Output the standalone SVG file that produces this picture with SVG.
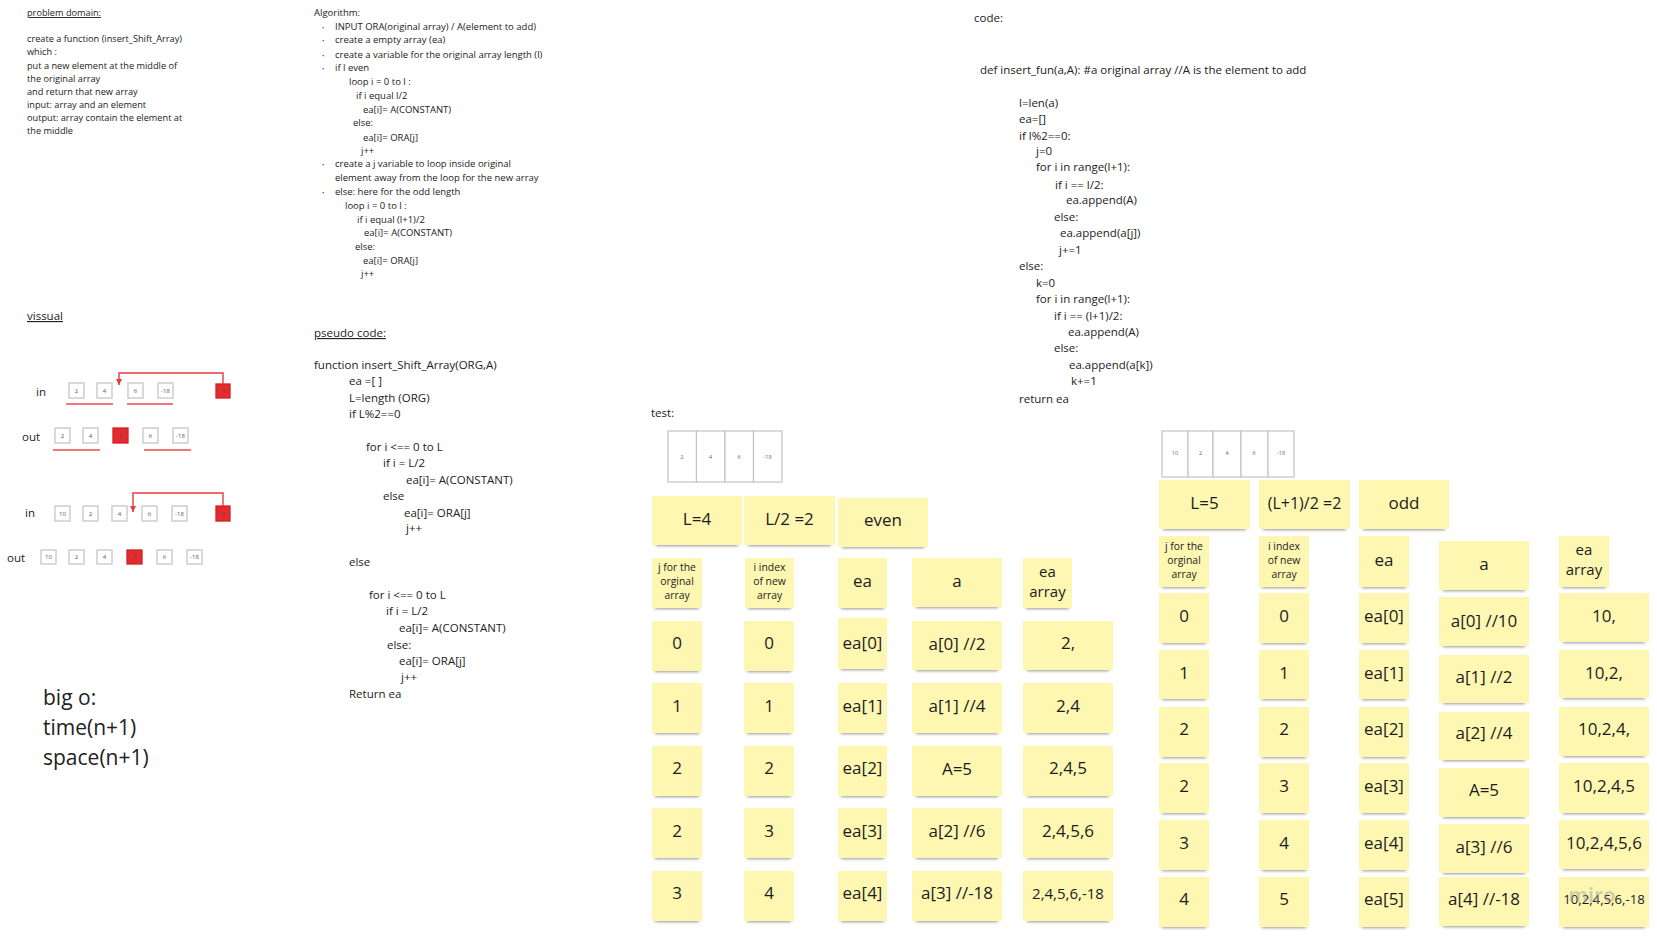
<svg xmlns="http://www.w3.org/2000/svg" width="1657" height="942" viewBox="0 0 1657 942">
<style>
text{font-family:"Open Sans","Liberation Sans",sans-serif;fill:#222}
.pd{font-size:9.2px}
.al{font-size:9.5px}
.cd{font-size:11.5px}
.u{text-decoration:underline}
.bul{font-size:6px;fill:#444}
.vl{font-size:11.5px}
.bo{font-size:21px}
.vb rect{fill:#fff;stroke:#c6c6c6;stroke-width:1.3}
.vb rect.r{fill:#e52a2d;stroke:#cf2326}
.vb text{font-size:6px;fill:#555;text-anchor:middle}
.ta rect{fill:#fff;stroke:#c4c4c4;stroke-width:1.2}
.ta text{font-size:5.5px;fill:#666;text-anchor:middle}
.s .sh{fill:#444;opacity:.55;filter:url(#blur)}
.s .n{fill:#fef7b2}
.s text{font-size:17px;text-anchor:middle;fill:#1c1c1c}
.s text.sm{font-size:10.4px}
.s text.md{font-size:15px}
.red{stroke:#e8393b;stroke-width:1.4;fill:none}
.ul{stroke:#ee4a4c;stroke-width:1.6}
</style>
<defs>
<filter id="blur" x="-20%" y="-100%" width="140%" height="300%"><feGaussianBlur stdDeviation="1.8"/></filter>
<marker id="ah" markerWidth="8" markerHeight="8" refX="6" refY="4" orient="auto" markerUnits="userSpaceOnUse"><path d="M0,1 L6,4 L0,7 z" fill="#e8393b"/></marker>
</defs>
<rect width="1657" height="942" fill="#fff"/>

<g id="problem-domain">
<text class="pd u" x="27" y="16">problem domain:</text>
<text class="pd" x="27" y="42">create a function (insert_Shift_Array)</text>
<text class="pd" x="27" y="55">which :</text>
<text class="pd" x="27" y="68.5">put a new element at the middle of</text>
<text class="pd" x="27" y="81.5">the original array</text>
<text class="pd" x="27" y="94.5">and return that new array</text>
<text class="pd" x="27" y="107.5">input: array and an element</text>
<text class="pd" x="27" y="121">output: array contain the element at</text>
<text class="pd" x="27" y="134">the middle</text>
</g>

<g id="algorithm">
<text class="al" x="314" y="16">Algorithm:</text>
<text class="bul" x="322" y="30">•</text><text class="al" x="335" y="30">INPUT ORA(original array) / A(element to add)</text>
<text class="bul" x="322" y="43">•</text><text class="al" x="335" y="43">create a empty array (ea)</text>
<text class="bul" x="322" y="58">•</text><text class="al" x="335" y="58">create a variable for the original array length (l)</text>
<text class="bul" x="322" y="71">•</text><text class="al" x="335" y="71">if l even</text>
<text class="al" x="349" y="85">loop i = 0 to l  :</text>
<text class="al" x="356" y="99">if  i equal l/2</text>
<text class="al" x="363" y="113">ea[i]=  A(CONSTANT)</text>
<text class="al" x="353" y="126">else:</text>
<text class="al" x="363" y="141">ea[i]=  ORA[j]</text>
<text class="al" x="361" y="154">j++</text>
<text class="bul" x="322" y="167">•</text><text class="al" x="335" y="167">create a j variable to loop inside original</text>
<text class="al" x="335" y="181">element away from the loop for the new array</text>
<text class="bul" x="322" y="195">•</text><text class="al" x="335" y="195">else: here for the odd length</text>
<text class="al" x="345" y="209">loop i = 0 to l :</text>
<text class="al" x="357" y="223">if  i equal (l+1)/2</text>
<text class="al" x="364" y="236">ea[i]=  A(CONSTANT)</text>
<text class="al" x="355" y="250">else:</text>
<text class="al" x="363" y="264">ea[i]=  ORA[j]</text>
<text class="al" x="361" y="277">j++</text>
</g>

<g id="pseudo-code">
<text class="cd u" x="314" y="337">pseudo code:</text>
<text class="cd" x="314" y="369">function insert_Shift_Array(ORG,A)</text>
<text class="cd" x="349" y="385">ea =[ ]</text>
<text class="cd" x="349" y="402">L=length (ORG)</text>
<text class="cd" x="349" y="418">if L%2==0</text>
<text class="cd" x="366" y="451">for i &lt;== 0 to L</text>
<text class="cd" x="383" y="467">if i = L/2</text>
<text class="cd" x="406" y="484">ea[i]= A(CONSTANT)</text>
<text class="cd" x="383" y="500">else</text>
<text class="cd" x="404" y="517">ea[i]=  ORA[j]</text>
<text class="cd" x="406" y="532">j++</text>
<text class="cd" x="349" y="566">else</text>
<text class="cd" x="369" y="599">for i &lt;== 0 to L</text>
<text class="cd" x="386" y="615">if i = L/2</text>
<text class="cd" x="399" y="632">ea[i]= A(CONSTANT)</text>
<text class="cd" x="387" y="649">else:</text>
<text class="cd" x="399" y="664.5">ea[i]=  ORA[j]</text>
<text class="cd" x="401" y="680.5">j++</text>
<text class="cd" x="349" y="698">Return ea</text>
</g>

<g id="code">
<text class="cd" x="974" y="22">code:</text>
<text class="cd" x="980" y="74">def insert_fun(a,A): #a original array //A is the element to add</text>
<text class="cd" x="1019" y="107">l=len(a)</text>
<text class="cd" x="1019" y="123">ea=[]</text>
<text class="cd" x="1019" y="140">if l%2==0:</text>
<text class="cd" x="1036" y="155">j=0</text>
<text class="cd" x="1036" y="171">for i in range(l+1):</text>
<text class="cd" x="1055" y="188.5">if i == l/2:</text>
<text class="cd" x="1066" y="204">ea.append(A)</text>
<text class="cd" x="1054" y="221">else:</text>
<text class="cd" x="1060" y="237">ea.append(a[j])</text>
<text class="cd" x="1059" y="254">j+=1</text>
<text class="cd" x="1019" y="270">else:</text>
<text class="cd" x="1036" y="287">k=0</text>
<text class="cd" x="1036" y="303">for i in range(l+1):</text>
<text class="cd" x="1054" y="320">if i == (l+1)/2:</text>
<text class="cd" x="1068" y="336">ea.append(A)</text>
<text class="cd" x="1054" y="352">else:</text>
<text class="cd" x="1069" y="369">ea.append(a[k])</text>
<text class="cd" x="1071" y="385">k+=1</text>
<text class="cd" x="1019" y="403">return ea</text>
</g>

<g id="big-o">
<text class="bo" x="43" y="705">big o:</text>
<text class="bo" x="43" y="735">time(n+1)</text>
<text class="bo" x="43" y="765">space(n+1)</text>
</g>

<g id="visual">
<text class="vl u" x="27" y="320">vissual</text>
<text class="vl" x="36" y="396">in</text>
<text class="vl" x="22" y="441">out</text>
<text class="vl" x="25" y="517">in</text>
<text class="vl" x="7" y="562">out</text>
</g>

<g id="even-in" class="vb">
<rect x="69" y="383" width="15" height="15"/><text x="76.5" y="392.5">2</text>
<rect x="97" y="383" width="15" height="15"/><text x="104.5" y="392.5">4</text>
<rect x="128" y="383" width="15" height="15"/><text x="135.5" y="392.5">6</text>
<rect x="158" y="383" width="15" height="15"/><text x="165.5" y="392.5">-18</text>
<rect class="r" x="216" y="384" width="14" height="14"/><text x="223" y="393">5</text>
</g>
<g id="even-out" class="vb">
<rect x="55" y="428" width="15" height="15"/><text x="62.5" y="437.5">2</text>
<rect x="83" y="428" width="15" height="15"/><text x="90.5" y="437.5">4</text>
<rect class="r" x="113" y="428" width="15" height="15"/><text x="120.5" y="437.5">5</text>
<rect x="143" y="428" width="15" height="15"/><text x="150.5" y="437.5">6</text>
<rect x="173" y="428" width="15" height="15"/><text x="180.5" y="437.5">-18</text>
</g>
<g id="odd-in" class="vb">
<rect x="55" y="506" width="15" height="15"/><text x="62.5" y="515.5">10</text>
<rect x="83" y="506" width="15" height="15"/><text x="90.5" y="515.5">2</text>
<rect x="112" y="506" width="15" height="15"/><text x="119.5" y="515.5">4</text>
<rect x="142" y="506" width="15" height="15"/><text x="149.5" y="515.5">6</text>
<rect x="172" y="506" width="15" height="15"/><text x="179.5" y="515.5">-18</text>
<rect class="r" x="216" y="506" width="14" height="15"/><text x="223" y="515.5">5</text>
</g>
<g id="odd-out" class="vb">
<rect x="41" y="550" width="15" height="14"/><text x="48.5" y="559">10</text>
<rect x="69" y="550" width="15" height="14"/><text x="76.5" y="559">2</text>
<rect x="97" y="550" width="15" height="14"/><text x="104.5" y="559">4</text>
<rect class="r" x="127" y="550" width="15" height="14"/><text x="134.5" y="559">5</text>
<rect x="157" y="550" width="15" height="14"/><text x="164.5" y="559">6</text>
<rect x="187" y="550" width="15" height="14"/><text x="194.5" y="559">-18</text>
</g>

<g id="connectors">
<path class="red" d="M223 384 V373 H119 V385" marker-end="url(#ah)"/>
<path class="red" d="M223 506 V493 H133 V512" marker-end="url(#ah)"/>
<line class="ul" x1="66" y1="404" x2="113" y2="404"/>
<line class="ul" x1="127" y1="404" x2="173" y2="404"/>
<line class="ul" x1="53" y1="450" x2="100" y2="450"/>
<line class="ul" x1="144" y1="450" x2="191" y2="450"/>
</g>

<text class="cd" x="651" y="417">test:</text>
<g id="test-array-even" class="ta">
<rect x="668" y="431" width="28.5" height="51"/><text x="682" y="459">2</text>
<rect x="696.5" y="431" width="28.5" height="51"/><text x="710.5" y="459">4</text>
<rect x="725" y="431" width="28.5" height="51"/><text x="739" y="459">6</text>
<rect x="753.5" y="431" width="28.5" height="51"/><text x="767.5" y="459">-18</text>
</g>
<g id="test-array-odd" class="ta">
<rect x="1162" y="431" width="26" height="46"/><text x="1175" y="455">10</text>
<rect x="1188" y="431" width="25" height="46"/><text x="1200.5" y="455">2</text>
<rect x="1213" y="431" width="28" height="46"/><text x="1227" y="455">4</text>
<rect x="1241" y="431" width="27" height="46"/><text x="1254" y="455">6</text>
<rect x="1268" y="431" width="26" height="46"/><text x="1281" y="455">-18</text>
</g>

<g id="e-L" class="s"><rect class="sh" x="656" y="539" width="82" height="7"/><rect class="n" x="652" y="496" width="90" height="49"/><text x="697" y="525">L=4</text></g>
<g id="e-half" class="s"><rect class="sh" x="748" y="539" width="83" height="7"/><rect class="n" x="744" y="496" width="91" height="49"/><text x="789.5" y="525">L/2 =2</text></g>
<g id="e-even" class="s"><rect class="sh" x="842" y="541" width="82" height="7"/><rect class="n" x="838" y="498" width="90" height="49"/><text x="883" y="526">even</text></g>
<g id="e-jhead" class="s"><rect class="sh" x="655" y="602" width="44" height="7"/><rect class="n" x="652" y="558" width="50" height="50"/><text class="sm" x="677" y="571">j for the</text><text class="sm" x="677" y="585">orginal</text><text class="sm" x="677" y="599">array</text></g>
<g id="e-ihead" class="s"><rect class="sh" x="748" y="602" width="43" height="7"/><rect class="n" x="745" y="558" width="49" height="50"/><text class="sm" x="769.5" y="571">i index</text><text class="sm" x="769.5" y="585">of new</text><text class="sm" x="769.5" y="599">array</text></g>
<g id="e-eahead" class="s"><rect class="sh" x="841" y="602" width="43" height="7"/><rect class="n" x="838" y="558" width="49" height="50"/><text x="862.5" y="587">ea</text></g>
<g id="e-ahead" class="s"><rect class="sh" x="916" y="601" width="82" height="7"/><rect class="n" x="912" y="558" width="90" height="49"/><text x="957" y="587">a</text></g>
<g id="e-arrhead" class="s"><rect class="sh" x="1026" y="602" width="43" height="7"/><rect class="n" x="1023" y="558" width="49" height="50"/><text class="md" x="1047.5" y="577">ea</text><text class="md" x="1047.5" y="597">array</text></g>

<g id="e-r0" class="s">
<rect class="sh" x="655" y="665" width="44" height="7"/><rect class="n" x="652" y="621" width="50" height="50"/><text x="677" y="649">0</text>
<rect class="sh" x="747" y="665" width="44" height="7"/><rect class="n" x="744" y="621" width="50" height="50"/><text x="769" y="649">0</text>
<rect class="sh" x="841" y="663" width="43" height="7"/><rect class="n" x="838" y="618" width="49" height="51"/><text x="862.5" y="649">ea[0]</text>
<rect class="sh" x="916" y="664" width="82" height="7"/><rect class="n" x="912" y="621" width="90" height="49"/><text x="957" y="650">a[0] //2</text>
<rect class="sh" x="1027" y="664" width="82" height="7"/><rect class="n" x="1023" y="621" width="90" height="49"/><text x="1068" y="649">2,</text>
</g>
<g id="e-r1" class="s">
<rect class="sh" x="655" y="727" width="44" height="7"/><rect class="n" x="652" y="683" width="50" height="50"/><text x="677" y="711.5">1</text>
<rect class="sh" x="747" y="727" width="44" height="7"/><rect class="n" x="744" y="683" width="50" height="50"/><text x="769" y="711.5">1</text>
<rect class="sh" x="841" y="727" width="43" height="7"/><rect class="n" x="838" y="683" width="49" height="50"/><text x="862.5" y="711.5">ea[1]</text>
<rect class="sh" x="916" y="727" width="82" height="7"/><rect class="n" x="912" y="683" width="90" height="50"/><text x="957" y="712">a[1] //4</text>
<rect class="sh" x="1027" y="727" width="82" height="7"/><rect class="n" x="1023" y="683" width="90" height="50"/><text x="1068" y="711.5">2,4</text>
</g>
<g id="e-r2" class="s">
<rect class="sh" x="655" y="790" width="44" height="7"/><rect class="n" x="652" y="746" width="50" height="50"/><text x="677" y="774">2</text>
<rect class="sh" x="747" y="790" width="44" height="7"/><rect class="n" x="744" y="746" width="50" height="50"/><text x="769" y="774">2</text>
<rect class="sh" x="841" y="790" width="43" height="7"/><rect class="n" x="838" y="746" width="49" height="50"/><text x="862.5" y="774">ea[2]</text>
<rect class="sh" x="916" y="790" width="82" height="7"/><rect class="n" x="912" y="746" width="90" height="50"/><text x="957" y="775">A=5</text>
<rect class="sh" x="1027" y="790" width="82" height="7"/><rect class="n" x="1023" y="746" width="90" height="50"/><text x="1068" y="774">2,4,5</text>
</g>
<g id="e-r3" class="s">
<rect class="sh" x="655" y="852" width="44" height="7"/><rect class="n" x="652" y="808" width="50" height="50"/><text x="677" y="836.5">2</text>
<rect class="sh" x="747" y="852" width="44" height="7"/><rect class="n" x="744" y="808" width="50" height="50"/><text x="769" y="836.5">3</text>
<rect class="sh" x="841" y="852" width="43" height="7"/><rect class="n" x="838" y="808" width="49" height="50"/><text x="862.5" y="836.5">ea[3]</text>
<rect class="sh" x="916" y="852" width="82" height="7"/><rect class="n" x="912" y="808" width="90" height="50"/><text x="957" y="837">a[2] //6</text>
<rect class="sh" x="1027" y="852" width="82" height="7"/><rect class="n" x="1023" y="808" width="90" height="50"/><text x="1068" y="836.5">2,4,5,6</text>
</g>
<g id="e-r4" class="s">
<rect class="sh" x="655" y="915" width="44" height="7"/><rect class="n" x="652" y="871" width="50" height="50"/><text x="677" y="899">3</text>
<rect class="sh" x="747" y="915" width="44" height="7"/><rect class="n" x="744" y="871" width="50" height="50"/><text x="769" y="899">4</text>
<rect class="sh" x="841" y="915" width="43" height="7"/><rect class="n" x="838" y="871" width="49" height="50"/><text x="862.5" y="899">ea[4]</text>
<rect class="sh" x="916" y="915" width="82" height="7"/><rect class="n" x="912" y="871" width="90" height="50"/><text x="957" y="899">a[3] //-18</text>
<rect class="sh" x="1027" y="915" width="82" height="7"/><rect class="n" x="1023" y="871" width="90" height="50"/><text class="md" x="1068" y="899">2,4,5,6,-18</text>
</g>

<g id="o-L" class="s"><rect class="sh" x="1163" y="523" width="83" height="7"/><rect class="n" x="1159" y="480" width="91" height="49"/><text x="1204.5" y="509">L=5</text></g>
<g id="o-half" class="s"><rect class="sh" x="1263" y="523" width="83" height="7"/><rect class="n" x="1259" y="480" width="91" height="49"/><text x="1304.5" y="509" style="font-size:16px">(L+1)/2 =2</text></g>
<g id="o-odd" class="s"><rect class="sh" x="1363" y="523" width="82" height="7"/><rect class="n" x="1359" y="480" width="90" height="49"/><text x="1404" y="509">odd</text></g>
<g id="o-jhead" class="s"><rect class="sh" x="1162" y="581" width="44" height="7"/><rect class="n" x="1159" y="536" width="50" height="51"/><text class="sm" x="1184" y="550">j for the</text><text class="sm" x="1184" y="563.5">orginal</text><text class="sm" x="1184" y="577.5">array</text></g>
<g id="o-ihead" class="s"><rect class="sh" x="1262" y="581" width="44" height="7"/><rect class="n" x="1259" y="536" width="50" height="51"/><text class="sm" x="1284" y="550">i index</text><text class="sm" x="1284" y="563.5">of new</text><text class="sm" x="1284" y="577.5">array</text></g>
<g id="o-eahead" class="s"><rect class="sh" x="1362" y="581" width="44" height="7"/><rect class="n" x="1359" y="536" width="50" height="51"/><text x="1384" y="566">ea</text></g>
<g id="o-ahead" class="s"><rect class="sh" x="1443" y="584" width="82" height="7"/><rect class="n" x="1439" y="541" width="90" height="49"/><text x="1484" y="570">a</text></g>
<g id="o-arrhead" class="s"><rect class="sh" x="1562" y="581" width="44" height="7"/><rect class="n" x="1559" y="536" width="50" height="51"/><text class="md" x="1584" y="555">ea</text><text class="md" x="1584" y="575">array</text></g>

<g id="o-r0" class="s">
<rect class="sh" x="1162" y="637" width="44" height="7"/><rect class="n" x="1159" y="593" width="50" height="50"/><text x="1184" y="622">0</text>
<rect class="sh" x="1262" y="637" width="44" height="7"/><rect class="n" x="1259" y="593" width="50" height="50"/><text x="1284" y="622">0</text>
<rect class="sh" x="1362" y="637" width="44" height="7"/><rect class="n" x="1359" y="593" width="50" height="50"/><text x="1384" y="622">ea[0]</text>
<rect class="sh" x="1443" y="640" width="82" height="7"/><rect class="n" x="1439" y="597" width="90" height="49"/><text x="1484" y="627">a[0] //10</text>
<rect class="sh" x="1563" y="636" width="82" height="7"/><rect class="n" x="1559" y="593" width="90" height="49"/><text x="1604" y="622">10,</text>
</g>
<g id="o-r1" class="s">
<rect class="sh" x="1162" y="693" width="44" height="7"/><rect class="n" x="1159" y="650" width="50" height="49"/><text x="1184" y="679">1</text>
<rect class="sh" x="1262" y="693" width="44" height="7"/><rect class="n" x="1259" y="650" width="50" height="49"/><text x="1284" y="679">1</text>
<rect class="sh" x="1362" y="693" width="44" height="7"/><rect class="n" x="1359" y="650" width="50" height="49"/><text x="1384" y="679">ea[1]</text>
<rect class="sh" x="1443" y="697" width="82" height="7"/><rect class="n" x="1439" y="655" width="90" height="48"/><text x="1484" y="683">a[1] //2</text>
<rect class="sh" x="1563" y="692" width="82" height="7"/><rect class="n" x="1559" y="650" width="90" height="48"/><text x="1604" y="679">10,2,</text>
</g>
<g id="o-r2" class="s">
<rect class="sh" x="1162" y="751" width="44" height="7"/><rect class="n" x="1159" y="707" width="50" height="50"/><text x="1184" y="735">2</text>
<rect class="sh" x="1262" y="751" width="44" height="7"/><rect class="n" x="1259" y="707" width="50" height="50"/><text x="1284" y="735">2</text>
<rect class="sh" x="1362" y="751" width="44" height="7"/><rect class="n" x="1359" y="707" width="50" height="50"/><text x="1384" y="735">ea[2]</text>
<rect class="sh" x="1443" y="754" width="82" height="7"/><rect class="n" x="1439" y="712" width="90" height="48"/><text x="1484" y="739">a[2] //4</text>
<rect class="sh" x="1563" y="750" width="82" height="7"/><rect class="n" x="1559" y="707" width="90" height="49"/><text x="1604" y="735">10,2,4,</text>
</g>
<g id="o-r3" class="s">
<rect class="sh" x="1162" y="807" width="44" height="7"/><rect class="n" x="1159" y="763" width="50" height="50"/><text x="1184" y="792">2</text>
<rect class="sh" x="1262" y="807" width="44" height="7"/><rect class="n" x="1259" y="763" width="50" height="50"/><text x="1284" y="792">3</text>
<rect class="sh" x="1362" y="807" width="44" height="7"/><rect class="n" x="1359" y="763" width="50" height="50"/><text x="1384" y="792">ea[3]</text>
<rect class="sh" x="1443" y="811" width="82" height="7"/><rect class="n" x="1439" y="768" width="90" height="49"/><text x="1484" y="796">A=5</text>
<rect class="sh" x="1563" y="807" width="82" height="7"/><rect class="n" x="1559" y="763" width="90" height="50"/><text x="1604" y="792">10,2,4,5</text>
</g>
<g id="o-r4" class="s">
<rect class="sh" x="1162" y="864" width="44" height="7"/><rect class="n" x="1159" y="820" width="50" height="50"/><text x="1184" y="849">3</text>
<rect class="sh" x="1262" y="864" width="44" height="7"/><rect class="n" x="1259" y="820" width="50" height="50"/><text x="1284" y="849">4</text>
<rect class="sh" x="1362" y="864" width="44" height="7"/><rect class="n" x="1359" y="820" width="50" height="50"/><text x="1384" y="849">ea[4]</text>
<rect class="sh" x="1443" y="867" width="82" height="7"/><rect class="n" x="1439" y="824" width="90" height="49"/><text x="1484" y="853">a[3] //6</text>
<rect class="sh" x="1563" y="863" width="82" height="7"/><rect class="n" x="1559" y="820" width="90" height="49"/><text x="1604" y="849">10,2,4,5,6</text>
</g>
<g id="o-r5" class="s">
<rect class="sh" x="1162" y="921" width="44" height="7"/><rect class="n" x="1159" y="877" width="50" height="50"/><text x="1184" y="905">4</text>
<rect class="sh" x="1262" y="921" width="44" height="7"/><rect class="n" x="1259" y="877" width="50" height="50"/><text x="1284" y="905">5</text>
<rect class="sh" x="1362" y="921" width="44" height="7"/><rect class="n" x="1359" y="877" width="50" height="50"/><text x="1384" y="905">ea[5]</text>
<rect class="sh" x="1443" y="920" width="82" height="7"/><rect class="n" x="1439" y="877" width="90" height="49"/><text x="1484" y="905">a[4] //-18</text>
<rect class="sh" x="1563" y="921" width="82" height="7"/><rect class="n" x="1559" y="877" width="90" height="50"/><text x="1604" y="904" style="font-size:13.2px">10,2,4,5,6,-18</text>
</g>
<text x="1592" y="902" text-anchor="middle" style="font-size:20px;font-weight:bold;fill:#9a9a9a;opacity:.45">miro</text>
</svg>
